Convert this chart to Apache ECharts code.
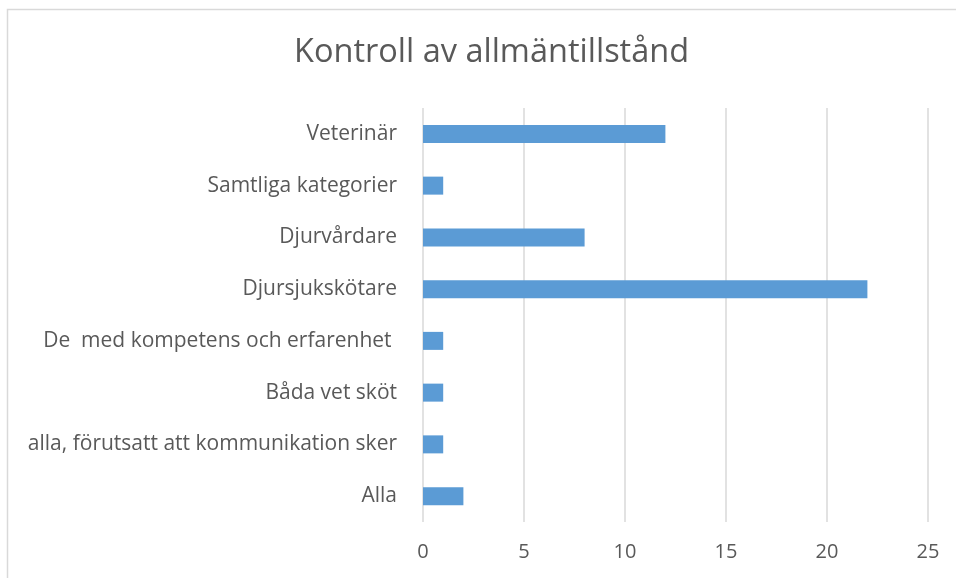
<!DOCTYPE html>
<html>
<head>
<meta charset="utf-8">
<script src="https://cdn.jsdelivr.net/npm/echarts@6/dist/echarts.min.js"></script>
<style>
  html, body { margin: 0; padding: 0; background: #fff; }
  #chart { width: 956px; height: 578px; }
</style>
</head>
<body>
<div id="chart"></div>
<script>
	// categories listed bottom to top, as ECharts draws a category y-axis
	var categories = [
		'Alla',
		'alla, förutsatt att kommunikation sker',
		'Båda vet sköt',
		'De  med kompetens och erfarenhet ',
		'Djursjukskötare',
		'Djurvårdare',
		'Samtliga kategorier',
		'Veterinär'
	];
	var values = [2, 1, 1, 1, 22, 8, 1, 12];
	var xTicks = [0, 5, 10, 15, 20, 25];

	var myChart = echarts.init(document.getElementById('chart'));
	var textColor = '#595959';
	var font = 'Open Sans';

	var option = {
		backgroundColor: '#fff',
		animation: false,
		title: {
			text: 'Kontroll av allmäntillstånd',
			left: 289,
			top: 31,
			textStyle: {
				fontFamily: font,
				fontSize: 32.5,
				fontWeight: 'normal',
				color: textColor
			}
		},
		graphic: [{
			type: 'rect',
			shape: { x: 7.5, y: 9.5, width: 960, height: 600 },
			style: { fill: 'none', stroke: '#d9d9d9', lineWidth: 1.5 },
			silent: true
		}],
		grid: {
			left: 423,
			right: 28,
			top: 108,
			bottom: 56
		},
		xAxis: {
			type: 'value',
			min: xTicks[0],
			max: xTicks[xTicks.length - 1],
			interval: 5,
			axisLine: { show: false },
			axisTick: { show: false },
			axisLabel: {
				margin: 20,
				fontFamily: font,
				fontSize: 20,
				color: textColor
			},
			splitLine: {
				lineStyle: { color: '#d9d9d9', width: 1.5 }
			}
		},
		yAxis: {
			type: 'category',
			data: categories,
			axisLine: { show: false },
			axisTick: { show: false },
			axisLabel: {
				margin: 26,
				fontFamily: font,
				fontSize: 21,
				color: textColor
			},
			splitLine: { show: false }
		},
		series: [{
			type: 'bar',
			data: values,
			barWidth: 18,
			itemStyle: { color: '#5b9bd5' }
		}]
	};
	myChart.setOption(option);
</script>
</body>
</html>
